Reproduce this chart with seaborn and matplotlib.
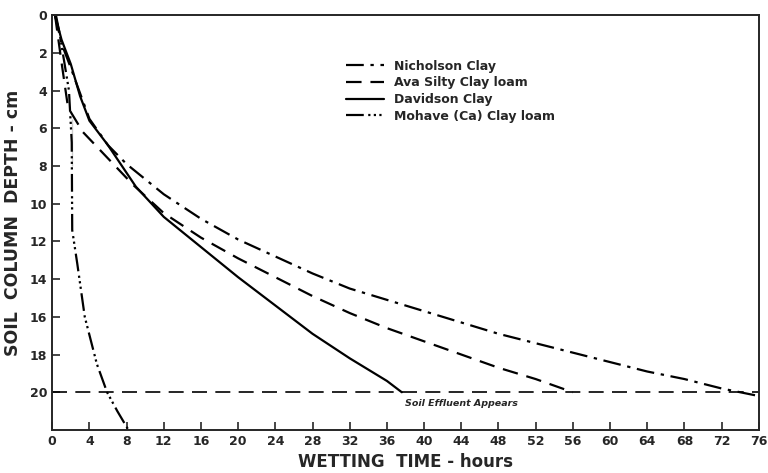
import pandas as pd
import matplotlib
matplotlib.use("Agg")
import matplotlib.pyplot as plt
import seaborn as sns

# === data ===
nich_t = [0.3, 1, 2, 4, 6, 8, 12, 16, 20, 24, 28, 32, 36, 40, 44, 48, 52, 56, 60, 64, 68, 72, 76]
nich_d = [0, 1.5, 2.8, 5.5, 6.9, 7.9, 9.5, 10.8, 11.9, 12.8, 13.7, 14.5, 15.1, 15.7, 16.3, 16.9, 17.4, 17.9, 18.4, 18.9, 19.3, 19.8, 20.2]

ava_t = [0.3, 1, 1.7, 3.3, 6, 8.7, 12, 16, 20, 24, 28, 32, 36, 40, 44, 48, 52, 56]
ava_d = [0, 2.5, 4.9, 6.2, 7.6, 9.0, 10.5, 11.8, 12.9, 13.9, 14.9, 15.8, 16.6, 17.3, 18.0, 18.7, 19.3, 20]

dav_t = [0.3, 1, 2, 3, 4, 6, 9, 12, 16, 20, 24, 28, 32, 36, 37.6]
dav_d = [0, 1.3, 2.6, 4.3, 5.6, 6.9, 9.1, 10.7, 12.3, 13.9, 15.4, 16.9, 18.2, 19.4, 20]

moh_t = [0.4, 0.8, 1.3, 1.8, 2.1, 2.1, 2.15, 2.7, 3.5, 4.8, 5.9, 7.0, 8.2]
moh_d = [0, 1, 2.5, 4, 5.5, 8, 11.4, 13.2, 16, 18.5, 20, 21, 22]

names = ["Nicholson Clay", "Ava Silty Clay loam", "Davidson Clay", "Mohave (Ca) Clay loam"]
effluent_depth = 20
x_ticks = list(range(0, 77, 4))
y_ticks = list(range(0, 21, 2))

# === style ===
sns.set_style("ticks")
plt.rcParams['font.family'] = ['DejaVu Sans']
plt.rcParams['font.weight'] = 'bold'

fig = plt.figure(figsize=(7.68, 4.73), dpi=100)
ax = fig.add_axes([0.068, 0.091, 0.92, 0.877])

series = [(nich_t, nich_d, (0, (8, 3, 1.5, 3))),
          (ava_t, ava_d, (0, (7, 4))),
          (dav_t, dav_d, '-'),
          (moh_t, moh_d, (0, (8, 2, 1, 1.5, 1, 1.5, 1, 2)))]
for (t, d, ls), name in zip(series, names):
    df = pd.DataFrame({'t': t, 'd': d})
    sns.lineplot(data=df, x='t', y='d', ax=ax, color='black', lw=1.6,
                 linestyle=ls, label=name, sort=False)

ax.axhline(effluent_depth, color='black', lw=1.2, linestyle=(0, (9, 5)))
ax.text(44, 20.6, "Soil Effluent Appears", style='italic', fontsize=6.8,
        ha='center', va='center', fontweight='bold')

ax.set_xlim(0, 76)
ax.set_ylim(22, 0)
ax.set_xticks(x_ticks)
ax.set_yticks(y_ticks)
ax.tick_params(direction='in', length=6, width=1.2, labelsize=9)
for s in ax.spines.values():
    s.set_linewidth(1.4)
    s.set_visible(True)

ax.set_xlabel("WETTING  TIME - hours", fontsize=12, fontweight='bold', labelpad=4)
ax.set_ylabel("SOIL  COLUMN  DEPTH - cm", fontsize=12.5, fontweight='bold', labelpad=6)

leg = ax.legend(loc='upper left', bbox_to_anchor=(0.40, 0.92), frameon=False,
                fontsize=9, handlelength=3, labelspacing=0.3)
for txt in leg.get_texts():
    txt.set_fontweight('bold')

fig.savefig("out.png", dpi=100)
